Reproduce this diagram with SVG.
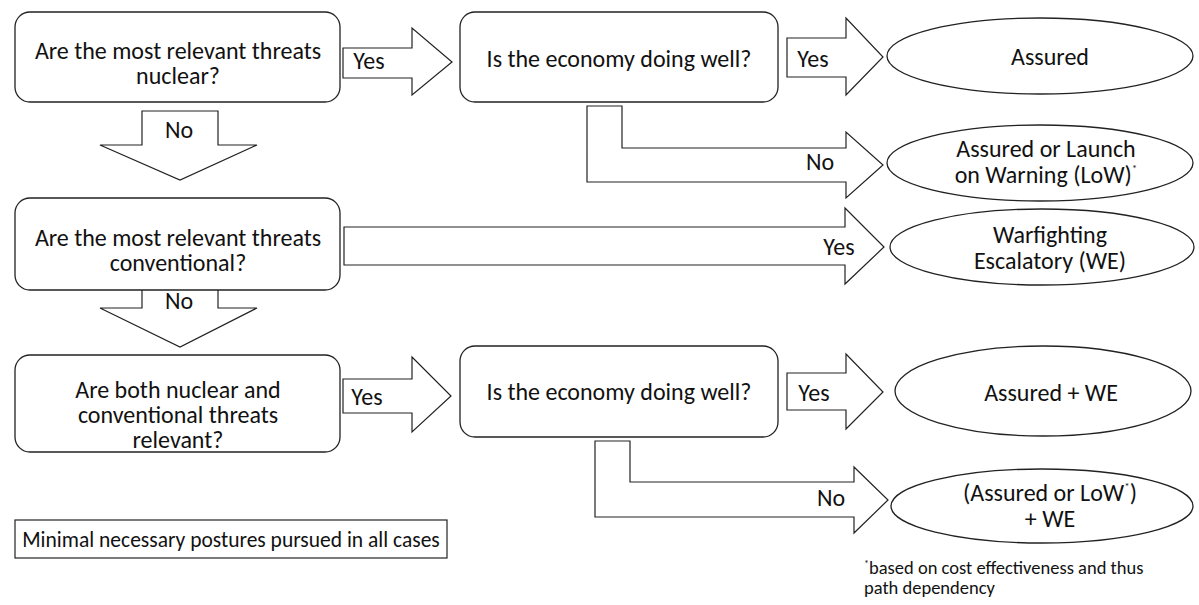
<svg xmlns="http://www.w3.org/2000/svg" width="1199" height="605" viewBox="0 0 1199 605">
<style>
.box{fill:#fff;stroke:#222;stroke-width:1.3}
.arr{fill:#fff;stroke:#222;stroke-width:1.2;stroke-linejoin:miter}
.t{font-family:Carlito,'Open Sans','Liberation Sans',sans-serif;font-size:24px;fill:#111;text-anchor:middle}
.l{font-family:Carlito,'Open Sans','Liberation Sans',sans-serif;font-size:24px;fill:#111;text-anchor:middle}
.m{font-family:Carlito,'Open Sans','Liberation Sans',sans-serif;font-size:21.5px;fill:#111;text-anchor:middle}
.fn{font-family:Carlito,'Open Sans','Liberation Sans',sans-serif;font-size:18.5px;fill:#111}
.sup{font-size:11px}
.fsup{font-size:10px}
</style>
<rect width="1199" height="605" fill="#fff"/>
<g id="connectors">
  <path class="arr" d="M343,48 H412 V28 L452,62 L412,95 V78 H343 Z"/>
  <text class="l" x="369" y="69">Yes</text>
  <path class="arr" d="M787,38 H846 V18 L883,57 L846,95 V77 H787 Z"/>
  <text class="l" x="813" y="67">Yes</text>
  <path class="arr" d="M587,106 H622 V148 H846 V132 L883,165 L846,198 V182 H587 Z"/>
  <text class="l" x="820" y="170">No</text>
  <path class="arr" d="M142,111 H218 V145 H257 L180,180 L100,145 H142 Z"/>
  <text class="l" x="179" y="138">No</text>
  <path class="arr" d="M344,227 H845 V208 L884,247 L845,284 V265 H344 Z"/>
  <text class="l" x="839" y="255">Yes</text>
  <path class="arr" d="M142,282 H218 V308 H257 L180,347 L100,308 H142 Z"/>
  <text class="l" x="179" y="309">No</text>
  <path class="arr" d="M343,379 H412 V357 L451,396 L412,432 V413 H343 Z"/>
  <text class="l" x="367" y="405">Yes</text>
  <path class="arr" d="M787,373 H846 V354 L883,392 L846,429 V410 H787 Z"/>
  <text class="l" x="814" y="401">Yes</text>
  <path class="arr" d="M595,441 H630 V482 H854 V467 L888,500 L854,533 V517 H595 Z"/>
  <text class="l" x="831" y="506">No</text>
</g>
<g id="q1">
  <rect class="box" x="15" y="12" width="325" height="90" rx="15"/>
  <text class="t" x="178" y="59">Are the most relevant threats</text>
  <text class="t" x="178" y="84">nuclear?</text>
</g>
<g id="q2">
  <rect class="box" x="460" y="12" width="318" height="90" rx="15"/>
  <text class="t" x="619" y="67">Is the economy doing well?</text>
</g>
<g id="r1">
  <ellipse class="box" cx="1040" cy="56" rx="153" ry="38"/>
  <text class="t" x="1050" y="65">Assured</text>
</g>
<g id="r2">
  <ellipse class="box" cx="1040" cy="163" rx="153" ry="38"/>
  <text class="t" x="1046" y="157">Assured or Launch</text>
  <text class="t" x="1046" y="183">on Warning (LoW)<tspan class="sup" dy="-11">*</tspan></text>
</g>
<g id="q3">
  <rect class="box" x="15" y="198" width="325" height="92" rx="15"/>
  <text class="t" x="178" y="246">Are the most relevant threats</text>
  <text class="t" x="178" y="271">conventional?</text>
</g>
<g id="r3">
  <ellipse class="box" cx="1042" cy="247" rx="152" ry="38"/>
  <text class="t" x="1050" y="243">Warfighting</text>
  <text class="t" x="1050" y="269">Escalatory (WE)</text>
</g>
<g id="q4">
  <rect class="box" x="15" y="355" width="325" height="97" rx="15"/>
  <text class="t" x="178" y="398">Are both nuclear and</text>
  <text class="t" x="178" y="423">conventional threats</text>
  <text class="t" x="178" y="448">relevant?</text>
</g>
<g id="q5">
  <rect class="box" x="460" y="346" width="318" height="91" rx="15"/>
  <text class="t" x="619" y="400">Is the economy doing well?</text>
</g>
<g id="r4">
  <ellipse class="box" cx="1043" cy="391" rx="148" ry="45"/>
  <text class="t" x="1051" y="401">Assured + WE</text>
</g>
<g id="r5">
  <ellipse class="box" cx="1042" cy="506" rx="151" ry="37"/>
  <text class="t" x="1050" y="501">(Assured or LoW<tspan class="sup" dy="-11">*</tspan><tspan dy="11">)</tspan></text>
  <text class="t" x="1050" y="527">+ WE</text>
</g>
<g id="note">
  <rect x="15" y="520" width="432" height="38" fill="#fff" stroke="#222" stroke-width="1.2"/>
  <text class="m" x="231" y="547">Minimal necessary postures pursued in all cases</text>
</g>
<g id="footnote">
  <text class="fn" x="864" y="574"><tspan class="fsup" dy="-7">*</tspan><tspan dy="7">based on cost effectiveness and thus</tspan></text>
  <text class="fn" x="864" y="594">path dependency</text>
</g>
</svg>
